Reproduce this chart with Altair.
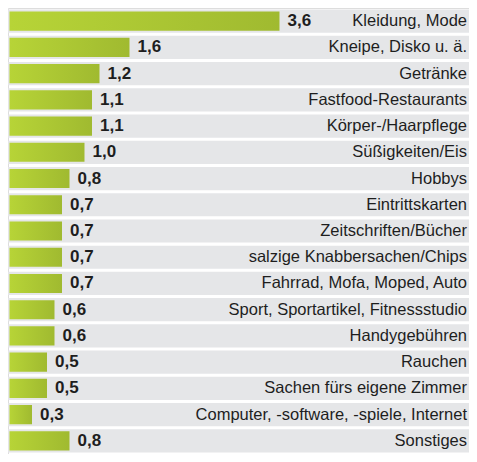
import altair as alt
import pandas as pd

categories = [
    "Kleidung, Mode",
    "Kneipe, Disko u. ä.",
    "Getränke",
    "Fastfood-Restaurants",
    "Körper-/Haarpflege",
    "Süßigkeiten/Eis",
    "Hobbys",
    "Eintrittskarten",
    "Zeitschriften/Bücher",
    "salzige Knabbersachen/Chips",
    "Fahrrad, Mofa, Moped, Auto",
    "Sport, Sportartikel, Fitnessstudio",
    "Handygebühren",
    "Rauchen",
    "Sachen fürs eigene Zimmer",
    "Computer, -software, -spiele, Internet",
    "Sonstiges",
]
values = [3.6, 1.6, 1.2, 1.1, 1.1, 1.0, 0.8, 0.7, 0.7, 0.7, 0.7, 0.6, 0.6, 0.5, 0.5, 0.3, 0.8]

df = pd.DataFrame({"cat": categories, "val": values})
df["lab"] = [f"{v:.1f}".replace(".", ",") for v in values]

W = 461
H = 446

y_enc = alt.Y("cat:N", sort=categories, axis=None,
              scale=alt.Scale(paddingInner=0, paddingOuter=0))
x_scale = alt.Scale(domain=[-0.02, 6.127], nice=False, zero=False)

band = alt.Chart(df).mark_bar(
    color="#e5e6e8", height=alt.RelativeBandSize(band=0.885)
).encode(
    y=y_enc, x=alt.value(0), x2=alt.value(W)
)

grad = alt.Gradient(
    gradient="linear",
    stops=[alt.GradientStop(color="#b7d437", offset=0),
           alt.GradientStop(color="#a0ba30", offset=1)],
    x1=0, x2=1, y1=0, y2=0,
)

bars = alt.Chart(df).mark_bar(
    color=grad, height=alt.RelativeBandSize(band=0.73)
).encode(
    y=y_enc,
    x=alt.X("val:Q", scale=x_scale, axis=None),
    x2=alt.datum(0),
)

vals = alt.Chart(df).mark_text(
    align="left", baseline="middle", dx=8, font="Liberation Sans",
    fontSize=17, fontWeight="bold", color="#1e1e1e"
).encode(
    y=y_enc,
    x=alt.X("val:Q", scale=x_scale, axis=None),
    text="lab:N",
)

cats = alt.Chart(df).mark_text(
    align="right", baseline="middle", font="Liberation Sans",
    fontSize=16.5, color="#1e1e1e"
).encode(
    y=y_enc,
    x=alt.value(W - 2),
    text="cat:N",
)

chart = alt.layer(band, bars, vals, cats).properties(
    width=W, height=H,
    autosize=alt.AutoSizeParams(type="none"),
    padding=0,
).configure_view(stroke=None).configure(background="white")

chart.save("out.html", embed_options={"renderer": "svg", "actions": False})
